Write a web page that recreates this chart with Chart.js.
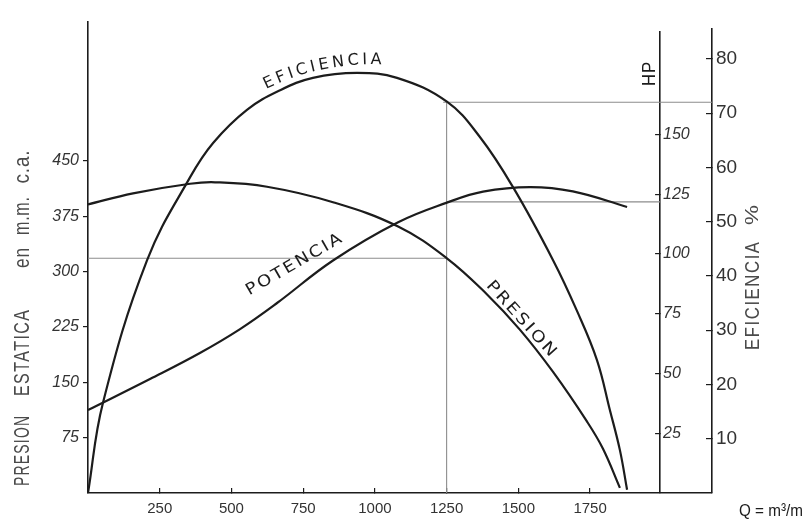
<!DOCTYPE html>
<html>
<head>
<meta charset="utf-8">
<script src="https://cdn.jsdelivr.net/npm/chart.js@4.4.1/dist/chart.umd.min.js"></script>
<style>
  html, body { margin: 0; padding: 0; background: #fff; }
</style>
</head>
<body>
<canvas id="curvas" width="807" height="521"></canvas>
<script>
// curvas caracteristicas del ventilador (Q en m3/min)
const presionQ   = [0, 157, 356, 443, 624, 854, 1081, 1251, 1391, 1506, 1621, 1739, 1795, 1854];
const presionMM  = [391, 406, 419, 421, 415, 394, 361, 318, 269, 221, 164, 97, 60, 7];

const potenciaQ  = [0, 216, 390, 530, 659, 854, 1081, 1251, 1377, 1541, 1690, 1879];
const potenciaHP = [34.7, 47.7, 58.6, 68.6, 79.5, 97.3, 113.3, 121.5, 126.1, 128.0, 126.2, 119.7];

const eficienciaQ   = [0, 52, 206, 356, 436, 554, 669, 784, 938, 1077, 1251, 1366, 1481, 1621, 1704, 1774, 1819, 1854, 1879];
const eficienciaPct = [0, 16.6, 42.9, 58.2, 64.5, 70.6, 74.2, 76.5, 77.4, 76.5, 72.1, 65.6, 56.4, 42.9, 33.6, 24.5, 15.3, 7.9, 0.6];

// punto de trabajo marcado con lineas finas
const puntoQ = 1250;
const puntoPresion = 318;
const puntoHP = 121.8;
const puntoEfic = 72;

// ejes
const qTicks = [250, 500, 750, 1000, 1250, 1500, 1750];
const presionTicks = [75, 150, 225, 300, 375, 450];
const hpTicks = [25, 50, 75, 100, 125, 150];
const eficienciaTicks = [10, 20, 30, 40, 50, 60, 70, 80];
const qMax = 2175;
const hpAxisQ = 1994;
const presionMax = 639;
const hpMax = 192.9;
const eficienciaMax = 85.5;

const INK = '#1c1c1c';
const GUIDE = '#8c8c8c';
const FONT = "'Liberation Sans', Arial, sans-serif";
const LETRA = "'DejaVu Sans', sans-serif";

function pares(xs, ys) {
    return xs.map((x, i) => ({ x: x, y: ys[i] }));
}

function curva(label, xs, ys, axis) {
    return {
        label: label,
        data: pares(xs, ys),
        yAxisID: axis,
        showLine: true,
        borderColor: INK,
        borderWidth: 2.2,
        pointRadius: 0,
        tension: 0.4
    };
}

function guia(label, xs, ys, axis) {
    return {
        label: label,
        data: pares(xs, ys),
        yAxisID: axis,
        showLine: true,
        borderColor: GUIDE,
        borderWidth: 1.1,
        pointRadius: 0,
        tension: 0
    };
}

function fixTicks(values) {
    return scale => { scale.ticks = values.map(v => ({ value: v })); };
}

// texto ajustado a un ancho dado (rotado)
function texto(ctx, str, x, y, ang, font, ancho, color, spacing) {
    ctx.save();
    ctx.translate(x, y);
    ctx.rotate(ang * Math.PI / 180);
    ctx.font = font;
    ctx.letterSpacing = (spacing || 0) + 'px';
    const w = ctx.measureText(str).width - (spacing || 0);
    if (ancho) ctx.scale(ancho / w, 1);
    ctx.fillStyle = color;
    ctx.textAlign = 'center';
    ctx.textBaseline = 'middle';
    ctx.fillText(str, (spacing || 0) / 2, 0);
    ctx.restore();
}

// letras una a una siguiendo un arco
function textoArco(ctx, str, x0, y0, a0, a1, font, sep, color) {
    ctx.save();
    ctx.font = font;
    ctx.fillStyle = color;
    ctx.textBaseline = 'alphabetic';
    let x = x0, y = y0;
    for (let i = 0; i < str.length; i++) {
        const a = (a0 + (a1 - a0) * i / (str.length - 1)) * Math.PI / 180;
        const w = ctx.measureText(str[i]).width;
        ctx.save();
        ctx.translate(x, y);
        ctx.rotate(a);
        ctx.fillText(str[i], 0, 0);
        ctx.restore();
        x += Math.cos(a) * (w + sep);
        y += Math.sin(a) * (w + sep);
    }
    ctx.restore();
}

const ejesPlugin = {
    id: 'ejes',
    afterLayout(chart) {
        const hp = chart.scales.hp;
        const ef = chart.scales.eff;
        const left = chart.scales.x.getPixelForValue(hpAxisQ);
        hp.left = left;
        hp.right = left + 50;
        hp.width = 50;
        hp.top = 32;
        hp.height = hp.bottom - hp.top;
        hp.configure();
        ef.top = 29;
        ef.height = ef.bottom - ef.top;
        ef.configure();
    }
};

const rotulosPlugin = {
    id: 'rotulos',
    afterDraw(chart) {
        const ctx = chart.ctx;
        const gray = '#4a4a4a';
        const tFont = '22px ' + FONT;

        // titulo eje izquierdo
        texto(ctx, 'PRESION', 23, 451, -90, tFont, 70, gray, 2);
        texto(ctx, 'ESTATICA', 23, 353, -90, tFont, 86, gray, 2);
        texto(ctx, 'en', 23, 258, -90, tFont, 20, gray, 1);
        texto(ctx, 'm.m.', 23, 216, -90, tFont, 38, gray, 1);
        texto(ctx, 'c.a.', 23, 167, -90, tFont, 33, gray, 1);

        // titulos ejes derechos
        texto(ctx, 'HP', 650, 74, -90, '19px ' + FONT, 24, INK, 1);
        texto(ctx, 'EFICIENCIA', 753, 296, -90, '21px ' + FONT, 108, gray, 2);
        texto(ctx, '%', 753, 215, -90, '19px ' + FONT, 20, gray, 0);
        texto(ctx, 'Q = m\u00b3/m', 771, 511, 0, '17px ' + FONT, 64, INK, 0);

        // nombres de las curvas
        const cFont = '16px ' + LETRA;
        textoArco(ctx, 'EFICIENCIA', 266, 89, -25, 1, cFont, 3.4, INK);
        texto(ctx, 'POTENCIA', 294, 265, -30, cFont, 108, INK, 2);
        texto(ctx, 'PRESION', 521, 319, 48, cFont, 96, INK, 2);
    }
};

const ctx = document.getElementById('curvas');

new Chart(ctx, {
    type: 'scatter',
    data: {
        datasets: [
            curva('Presion', presionQ, presionMM, 'y'),
            curva('Potencia', potenciaQ, potenciaHP, 'hp'),
            curva('Eficiencia', eficienciaQ, eficienciaPct, 'eff'),
            guia('guia Q', [puntoQ, puntoQ], [0, puntoEfic], 'eff'),
            guia('guia eficiencia', [puntoQ - 12, qMax], [puntoEfic, puntoEfic], 'eff'),
            guia('guia potencia', [puntoQ, hpAxisQ], [puntoHP, puntoHP], 'hp'),
            guia('guia presion', [0, puntoQ], [puntoPresion, puntoPresion], 'y')
        ]
    },
    options: {
        responsive: false,
        animation: false,
        layout: { padding: { top: 13, left: 0, right: 0, bottom: 0 } },
        plugins: {
            legend: { display: false },
            tooltip: { enabled: false }
        },
        scales: {
            x: {
                type: 'linear',
                position: 'bottom',
                min: 0,
                max: qMax,
                afterFit: s => { s.height = 28; },
                afterBuildTicks: fixTicks(qTicks),
                grid: { drawOnChartArea: false, tickLength: -5, color: INK, lineWidth: 1.2 },
                border: { color: INK, width: 1.6 },
                ticks: {
                    padding: 12, color: '#333', font: { family: FONT, size: 15 },
                    maxRotation: 0, autoSkip: false, callback: v => String(v)
                }
            },
            y: {
                type: 'linear',
                position: 'left',
                min: 0,
                max: presionMax,
                afterFit: s => { s.width = 88; },
                afterBuildTicks: fixTicks(presionTicks),
                grid: { drawOnChartArea: false, tickLength: 5, color: INK, lineWidth: 1.2 },
                border: { color: INK, width: 1.6 },
                ticks: { padding: 4, color: '#333', font: { family: FONT, size: 16, style: 'italic' } }
            },
            hp: {
                type: 'linear',
                position: 'right',
                weight: 0,
                min: 0,
                max: hpMax,
                afterFit: s => { s.width = 0; },
                afterBuildTicks: fixTicks(hpTicks),
                grid: { drawOnChartArea: false, tickLength: -5, color: INK, lineWidth: 1.2 },
                border: { color: INK, width: 1.6 },
                ticks: { padding: 8, color: '#333', font: { family: FONT, size: 16, style: 'italic' } }
            },
            eff: {
                type: 'linear',
                position: 'right',
                weight: 1,
                min: 0,
                max: eficienciaMax,
                afterFit: s => { s.width = 95; },
                afterBuildTicks: fixTicks(eficienciaTicks),
                grid: { drawOnChartArea: false, tickLength: -6, color: INK, lineWidth: 1.2 },
                border: { color: INK, width: 1.6 },
                ticks: { padding: 10, color: '#333', font: { family: FONT, size: 19 } }
            }
        }
    },
    plugins: [ejesPlugin, rotulosPlugin]
});
</script>
</body>
</html>
